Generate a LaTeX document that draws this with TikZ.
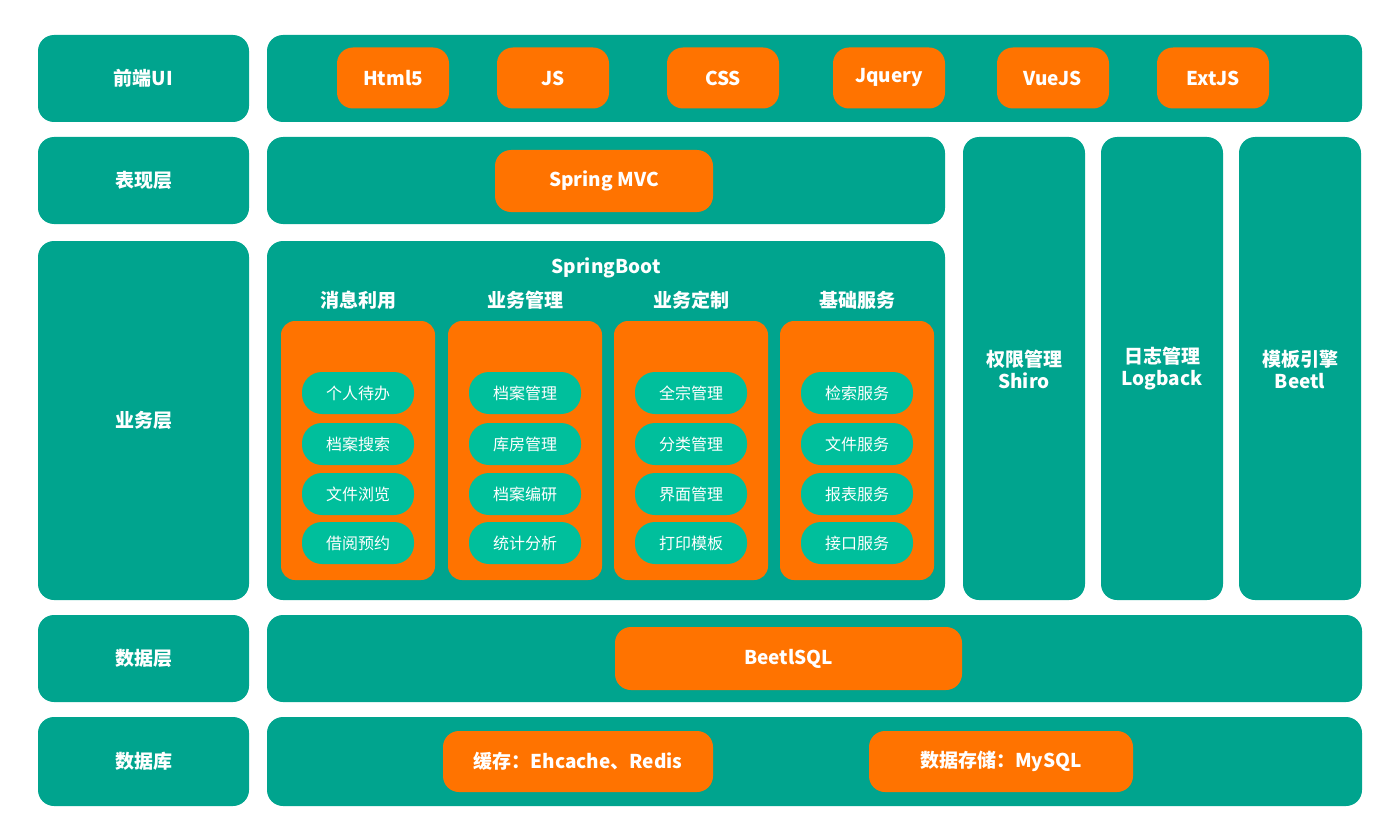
\documentclass[tikz,border=0pt]{standalone}
\usepackage{fontspec}
\setmainfont{Noto Sans CJK SC}
\definecolor{tl}{HTML}{00A48E}
\definecolor{dk}{HTML}{00A090}
\definecolor{or}{HTML}{FF7300}
\definecolor{gn}{HTML}{00BF9C}
\begin{document}
\begin{tikzpicture}[x=1pt,y=-1pt,
 box/.style={fill=tl,rounded corners=16pt},
 ob/.style={fill=or,rounded corners=14pt},
 lbl/.style={text=white,font=\fontsize{19}{22}\selectfont\bfseries},
 pill/.style={fill=gn,rounded corners=20pt,minimum width=112pt,minimum height=42pt,text=white,font=\fontsize{16}{18}\selectfont},
 op/.style={fill=or,rounded corners=16pt,text=white,font=\fontsize{19}{22}\selectfont\bfseries,inner sep=0pt}]
\useasboundingbox (0,0) rectangle (1400,840);
% left labels
\foreach \n/\a/\b/\t in {l1/35/122/前端UI,l2/137/224/表现层,l3/241/600/业务层,l4/615/702/数据层,l5/717/806/数据库}{
 \fill[box] (38,\a) rectangle (249,\b);
 \node[lbl] (\n) at (143.5,{(\a+\b)/2}) {\t};}
% big boxes
\fill[box] (267,35) rectangle (1362,122);
\fill[box] (267,137) rectangle (945,224);
\fill[box] (267,241) rectangle (945,600);
\fill[box] (267,615) rectangle (1362,702);
\fill[box] (267,717) rectangle (1362,806);
% front end
\foreach \n/\x/\t in {h/393/Html5,j/553/JS,c/723/CSS,q/889/Jquery,v/1053/VueJS,e/1213/ExtJS}{
 \node[op,minimum width=112pt,minimum height=61pt,font=\fontsize{19}{22}\selectfont\bfseries] (\n) at (\x,78) {\t};}
\node[op,minimum width=218pt,minimum height=62pt] (mvc) at (604,181) {Spring MVC};
\node[lbl] (sb) at (606,268) {SpringBoot};
% columns
\foreach \n/\x/\t/\ta/\tb/\tc/\td in {a/358/消息利用/个人待办/档案搜索/文件浏览/借阅预约,b/525/业务管理/档案管理/库房管理/档案编研/统计分析,c/691/业务定制/全宗管理/分类管理/界面管理/打印模板,d/857/基础服务/检索服务/文件服务/报表服务/接口服务}{
 \node[lbl] (h\n) at (\x,300) {\t};
 \fill[ob] (\x-77,321) rectangle (\x+77,580);
 \node[pill] (\n1) at (\x,393) {\ta};
 \node[pill] (\n2) at (\x,444) {\tb};
 \node[pill] (\n3) at (\x,494) {\tc};
 \node[pill] (\n4) at (\x,543) {\td};}
% right columns
\foreach \n/\x/\ta/\tb in {r1/1024/权限管理/Shiro,r2/1162/日志管理/Logback,r3/1300/模板引擎/Beetl}{
 \fill[box] (\x-61,137) rectangle (\x+61,600);
 \node[lbl,align=center] (\n) at (\x,369) {\ta\\\tb};}
\node[op,minimum width=347pt,minimum height=63pt] (sql) at (788.5,658.5) {BeetlSQL};
\node[op,minimum width=270pt,minimum height=61pt] (ca) at (578,761.5) {缓存：Ehcache、Redis};
\node[op,minimum width=264pt,minimum height=61pt] (db) at (1001,761.5) {数据存储：MySQL};
\end{tikzpicture}
\end{document}
